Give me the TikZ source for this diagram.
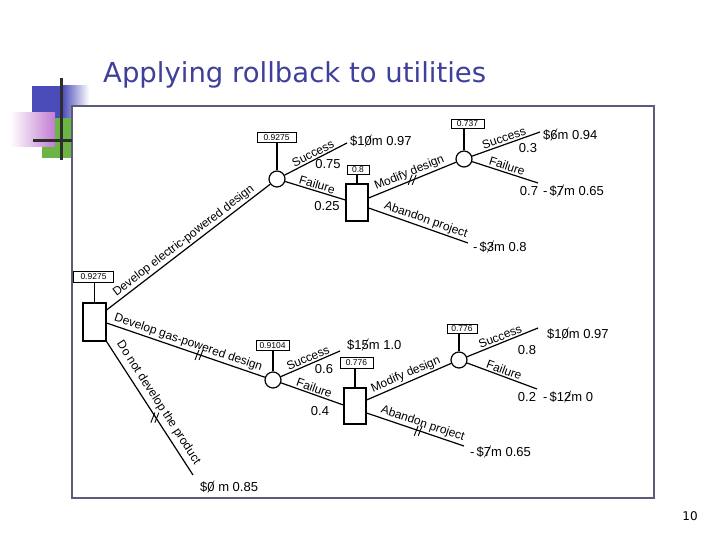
\documentclass[tikz,border=0pt]{standalone}
\usepackage{fontspec}
\setmainfont{Liberation Sans}
\newfontfamily\titlefont{DejaVu Sans}
\usepackage{graphicx}
\usetikzlibrary{calc}
\definecolor{titleblue}{HTML}{3F3F9C}
\definecolor{sqblue}{HTML}{4A4AB8}
\definecolor{sqgreen}{HTML}{6CB444}
\definecolor{sqpink}{HTML}{C27CD2}
\definecolor{framecol}{HTML}{5C5C78}
\definecolor{barcol}{HTML}{2E2E2E}
\newcommand\strk[1]{\ooalign{#1\cr\hidewidth\raisebox{-0.12em}{\rotatebox{62}{\rule{1.05em}{0.5pt}}}\hidewidth}}
\begin{document}
\begin{tikzpicture}[x=1pt,y=-1pt,
  dnode/.style={draw,line width=1.2pt,inner sep=0pt,fill=white},
  chance/.style={draw,circle,line width=1.2pt,minimum size=16pt,inner sep=0pt,fill=white},
  vbox/.style={draw,line width=0.9pt,inner sep=1pt,minimum height=10.5pt,font=\fontsize{8.5}{9}\selectfont},
  br/.style={line width=1.2pt},
  lab/.style={font=\fontsize{12}{12}\selectfont,sloped,above=0.5pt,inner sep=1pt},
  val/.style={font=\fontsize{13}{13}\selectfont,anchor=west,inner sep=0pt},
  prob/.style={font=\fontsize{13}{13}\selectfont,inner sep=0pt},
  tickmk/.style={line width=0.9pt}]
\useasboundingbox (0,0) rectangle (720,540);
\fill[white] (0,0) rectangle (720,540);
% decoration
\fill[sqblue] (32,86) rectangle (62,118);
\shade[left color=sqblue,right color=white] (62,86) rectangle (89,118);
\fill[sqgreen] (42,118) rectangle (72,158);
\shade[left color=white,right color=sqpink] (10,113) rectangle (55,147);
% frame
\draw[framecol,line width=1.2pt,fill=white] (72,106) rectangle (654,498);
\draw[barcol,line width=3pt] (61,78) -- (61,160);
\draw[barcol,line width=3pt] (33,141) -- (72,141);
% title
\node[anchor=base west,inner sep=0pt,text=titleblue,font=\titlefont\fontsize{27.5}{30}\selectfont] (title) at (103,83) {Applying rollback to utilities};
\node[inner sep=0pt,font=\titlefont\fontsize{12}{12}\selectfont] (pageno) at (690,516) {10};
% nodes
\node[dnode,minimum width=23pt,minimum height=38pt] (d1) at (94.5,322) {};
\node[vbox,minimum width=40pt] (b1) at (93.5,277) {0.9275};
\node[chance] (c1) at (277,179) {};
\node[vbox,minimum width=39pt] (b2) at (276.5,137.5) {0.9275};
\node[dnode,minimum width=22pt,minimum height=37pt] (d2) at (357,202.5) {};
\node[vbox,minimum width=22pt,minimum height=9pt] (b3) at (358,169.5) {0.8};
\node[chance] (c2) at (464,159) {};
\node[vbox,minimum width=33pt,minimum height=9pt] (b4) at (467.5,123.5) {0.737};
\node[chance] (c3) at (273,380) {};
\node[vbox,minimum width=33pt] (b5) at (272.5,345.5) {0.9104};
\node[dnode,minimum width=22pt,minimum height=36pt] (d3) at (355,406) {};
\node[vbox,minimum width=33pt] (b6) at (356.5,363) {0.776};
\node[chance] (c4) at (459,360) {};
\node[vbox,minimum width=30pt,minimum height=9pt] (b7) at (462,328.5) {0.776};
% free ends
\coordinate (s1) at (347,143);
\coordinate (a1) at (468,243);
\coordinate (s2) at (540,132);
\coordinate (f2) at (538,183);
\coordinate (s3) at (340,351);
\coordinate (a2) at (464,446);
\coordinate (s4) at (538,328);
\coordinate (f4) at (537,389);
\coordinate (n1) at (193,475);
% box stems
\draw[br] (d1.north) -- (d1.north |- b1.south);
\draw[br] (c1.north) -- (c1.north |- b2.south);
\draw[br] (d2.north) -- (d2.north |- b3.south);
\draw[br] (c2.north) -- (c2.north |- b4.south);
\draw[br] (c3.north) -- (c3.north |- b5.south);
\draw[br] (d3.north) -- (d3.north |- b6.south);
\draw[br] (c4.north) -- (c4.north |- b7.south);
% branches
\draw[br] ($(d1.east)+(0,-12)$) -- node[lab]{Develop electric-powered design} (c1);
\draw[br] ($(d1.east)+(0,1)$) -- node[lab]{Develop gas-powered design} coordinate[pos=0.59] (k2) (c3);
\draw[br] (d1.south east) -- node[lab,above=2.5pt]{Do not develop the product} coordinate[pos=0.57] (k3) (n1);
\draw[br] (c1) -- node[lab]{Success} (s1);
\draw[br] (c1) -- node[lab]{Failure} ($(d2.west)+(0,-2.5)$);
\draw[br] ($(d2.east)+(0,-4.5)$) -- node[lab]{Modify design} coordinate[pos=0.51] (k1) (c2);
\draw[br] ($(d2.east)+(0,5.5)$) -- node[lab,pos=0.55]{Abandon project} (a1);
\draw[br] (c2) -- node[lab]{Success} (s2);
\draw[br] (c2) -- node[lab]{Failure} (f2);
\draw[br] (c3) -- node[lab]{Success} (s3);
\draw[br] (c3) -- node[lab]{Failure} ($(d3.west)+(0,-1)$);
\draw[br] ($(d3.east)+(0,-6)$) -- node[lab]{Modify design} (c4);
\draw[br] ($(d3.east)+(0,7)$) -- node[lab,pos=0.55]{Abandon project} coordinate[pos=0.54] (k4) (a2);
\draw[br] (c4) -- node[lab]{Success} (s4);
\draw[br] (c4) -- node[lab]{Failure} (f4);
% hand tick marks
\foreach \k in {k1,k2,k3,k4}{
  \draw[tickmk] ($(\k)+(-5,5)$) -- ($(\k)+(-1,-5)$);
  \draw[tickmk] ($(\k)+(-1,5)$) -- ($(\k)+(3,-5)$);
}
% probabilities
\node[prob] (p1) at (328,164) {0.75};
\node[prob] (p2) at (327,206) {0.25};
\node[prob] (p3) at (528,148) {0.3};
\node[prob] (p4) at (529,191) {0.7};
\node[prob] (p5) at (324,369) {0.6};
\node[prob] (p6) at (320,411) {0.4};
\node[prob] (p7) at (527,350) {0.8};
\node[prob] (p8) at (527,397) {0.2};
% values
\node[val] (v1) at (350,141) {\$1\strk{0}m 0.97};
\node[val] (v2) at (543,135) {\$\strk{6}m 0.94};
\node[val] (v3) at (543,191) {-\,\$\strk{7}m 0.65};
\node[val] (v4) at (473,247) {-\,\$\strk{3}m 0.8};
\node[val] (v5) at (347,345) {\$1\strk{5}m 1.0};
\node[val] (v6) at (547,334) {\$1\strk{0}m 0.97};
\node[val] (v7) at (543,397) {-\,\$1\strk{2}m 0};
\node[val] (v8) at (470,452) {-\,\$\strk{7}m 0.65};
\node[val] (v9) at (200,487) {\$\strk{0} m 0.85};
\end{tikzpicture}
\end{document}
